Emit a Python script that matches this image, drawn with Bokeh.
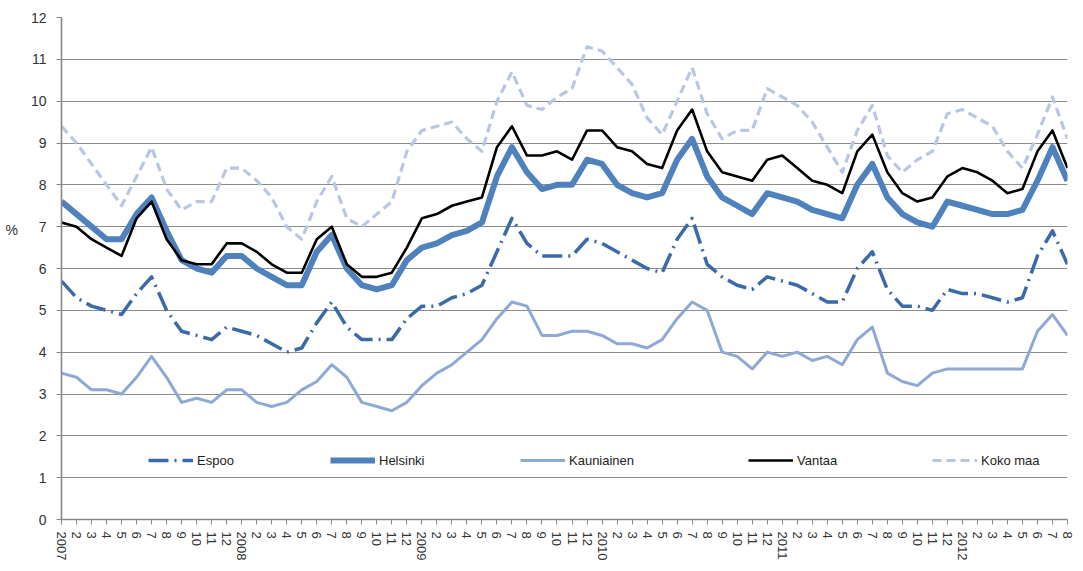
from bokeh.plotting import figure
from bokeh.models import (Range1d, FixedTicker, Legend, LegendItem, ColumnDataSource)
from bokeh.embed import file_html
from bokeh.resources import INLINE

# ---- data ----
years = [2007, 2008, 2009, 2010, 2011, 2012]
month_counts = [12, 12, 12, 12, 12, 8]

espoo = [5.7, 5.3, 5.1, 5.0, 4.9, 5.4, 5.8, 5.0, 4.5, 4.4, 4.3, 4.6,
         4.5, 4.4, 4.2, 4.0, 4.1, 4.7, 5.2, 4.6, 4.3, 4.3, 4.3, 4.8,
         5.1, 5.1, 5.3, 5.4, 5.6, 6.4, 7.2, 6.6, 6.3, 6.3, 6.3, 6.7,
         6.6, 6.4, 6.2, 6.0, 5.9, 6.7, 7.2, 6.1, 5.8, 5.6, 5.5, 5.8,
         5.7, 5.6, 5.4, 5.2, 5.2, 6.0, 6.4, 5.5, 5.1, 5.1, 5.0, 5.5,
         5.4, 5.4, 5.3, 5.2, 5.3, 6.3, 6.9, 6.1]
helsinki = [7.6, 7.3, 7.0, 6.7, 6.7, 7.3, 7.7, 6.9, 6.2, 6.0, 5.9, 6.3,
            6.3, 6.0, 5.8, 5.6, 5.6, 6.4, 6.8, 6.0, 5.6, 5.5, 5.6, 6.2,
            6.5, 6.6, 6.8, 6.9, 7.1, 8.2, 8.9, 8.3, 7.9, 8.0, 8.0, 8.6,
            8.5, 8.0, 7.8, 7.7, 7.8, 8.6, 9.1, 8.2, 7.7, 7.5, 7.3, 7.8,
            7.7, 7.6, 7.4, 7.3, 7.2, 8.0, 8.5, 7.7, 7.3, 7.1, 7.0, 7.6,
            7.5, 7.4, 7.3, 7.3, 7.4, 8.1, 8.9, 8.1]
kauniainen = [3.5, 3.4, 3.1, 3.1, 3.0, 3.4, 3.9, 3.4, 2.8, 2.9, 2.8, 3.1,
              3.1, 2.8, 2.7, 2.8, 3.1, 3.3, 3.7, 3.4, 2.8, 2.7, 2.6, 2.8,
              3.2, 3.5, 3.7, 4.0, 4.3, 4.8, 5.2, 5.1, 4.4, 4.4, 4.5, 4.5,
              4.4, 4.2, 4.2, 4.1, 4.3, 4.8, 5.2, 5.0, 4.0, 3.9, 3.6, 4.0,
              3.9, 4.0, 3.8, 3.9, 3.7, 4.3, 4.6, 3.5, 3.3, 3.2, 3.5, 3.6,
              3.6, 3.6, 3.6, 3.6, 3.6, 4.5, 4.9, 4.4]
vantaa = [7.1, 7.0, 6.7, 6.5, 6.3, 7.2, 7.6, 6.7, 6.2, 6.1, 6.1, 6.6,
          6.6, 6.4, 6.1, 5.9, 5.9, 6.7, 7.0, 6.1, 5.8, 5.8, 5.9, 6.5,
          7.2, 7.3, 7.5, 7.6, 7.7, 8.9, 9.4, 8.7, 8.7, 8.8, 8.6, 9.3,
          9.3, 8.9, 8.8, 8.5, 8.4, 9.3, 9.8, 8.8, 8.3, 8.2, 8.1, 8.6,
          8.7, 8.4, 8.1, 8.0, 7.8, 8.8, 9.2, 8.3, 7.8, 7.6, 7.7, 8.2,
          8.4, 8.3, 8.1, 7.8, 7.9, 8.8, 9.3, 8.4]
koko_maa = [9.4, 9.0, 8.5, 8.0, 7.5, 8.2, 8.9, 7.9, 7.4, 7.6, 7.6, 8.4,
            8.4, 8.1, 7.7, 7.0, 6.7, 7.6, 8.2, 7.2, 7.0, 7.3, 7.6, 8.8,
            9.3, 9.4, 9.5, 9.1, 8.8, 10.0, 10.7, 9.9, 9.8, 10.1, 10.3, 11.3,
            11.2, 10.8, 10.4, 9.6, 9.2, 10.0, 10.8, 9.7, 9.1, 9.3, 9.3, 10.3,
            10.1, 9.9, 9.5, 8.9, 8.3, 9.3, 9.9, 8.7, 8.3, 8.6, 8.8, 9.7,
            9.8, 9.6, 9.4, 8.8, 8.4, 9.2, 10.1, 9.1]

tick_labels = []
for yr, n in zip(years, month_counts):
    for m in range(1, n + 1):
        tick_labels.append(str(yr) if m == 1 else str(m))

idx = list(range(len(tick_labels)))
src = ColumnDataSource(dict(x=idx, espoo=espoo, helsinki=helsinki,
                            kauniainen=kauniainen, vantaa=vantaa, koko=koko_maa))

p = figure(width=1075, height=563, output_backend="svg", toolbar_location=None,
           x_range=Range1d(0, len(idx) - 1), y_range=Range1d(0, 12),
           min_border_left=61, min_border_right=8, min_border_top=17, min_border_bottom=44)
p.outline_line_color = None
p.background_fill_color = "white"

# axes
p.xaxis.ticker = FixedTicker(ticks=idx)
p.xaxis.major_label_overrides = {i: t for i, t in zip(idx, tick_labels)}
p.xaxis.major_label_orientation = "vertical"
p.yaxis.ticker = FixedTicker(ticks=list(range(0, 13)))
for ax in (p.xaxis, p.yaxis):
    ax.axis_line_color = "#868686"
    ax.axis_line_width = 1.6
    ax.major_tick_line_color = "#868686"
    ax.major_tick_in = 0
    ax.major_tick_out = 5
    ax.minor_tick_line_color = None
    ax.major_label_text_font = "Liberation Sans"
    ax.major_label_text_color = "#333333"
p.xaxis.major_label_text_font_size = "13px"
p.xaxis.major_label_standoff = 7
p.yaxis.major_label_text_font_size = "14px"
p.yaxis.major_label_standoff = 10

# "%" as the y-axis title, horizontal, lifted toward the 7 gridline
p.yaxis.axis_label = "%\n\n\n\n"
p.yaxis.axis_label_orientation = "horizontal"
p.yaxis.axis_label_standoff = 10
p.yaxis.axis_label_text_font = "Liberation Sans"
p.yaxis.axis_label_text_font_style = "normal"
p.yaxis.axis_label_text_font_size = "14px"
p.yaxis.axis_label_text_color = "#333333"

p.xgrid.grid_line_color = None
p.ygrid.ticker = FixedTicker(ticks=list(range(1, 13)))
p.ygrid.grid_line_color = "#8c8c8c"
p.ygrid.grid_line_width = 1.2

# lines
r_esp = p.line("x", "espoo", source=src, line_color="#3B6AA9", line_width=3.5,
               line_dash="20 6 2 6", line_join="round")
r_hel = p.line("x", "helsinki", source=src, line_color="#4F81BD", line_width=6,
               line_join="round")
r_kau = p.line("x", "kauniainen", source=src, line_color="#8DA9D4", line_width=3,
               line_join="round")
r_van = p.line("x", "vantaa", source=src, line_color="black", line_width=2.6,
               line_join="round")
r_kok = p.line("x", "koko", source=src, line_color="#B9C7E2", line_width=3.2,
               line_dash="9 5", line_join="round")

# legends, one per item, positioned like the reference
names = ["Espoo", "Helsinki", "Kauniainen", "Vantaa", "Koko maa"]
renderers = [r_esp, r_hel, r_kau, r_van, r_kok]
xpos = [87, 269, 459, 687, 871]
for name, r, xp in zip(names, renderers, xpos):
    leg = Legend(items=[LegendItem(label=name, renderers=[r])], location=(xp, 49),
                 orientation="horizontal", border_line_color=None,
                 background_fill_alpha=0, padding=0, margin=0, spacing=0,
                 glyph_width=45, glyph_height=20, label_standoff=4,
                 label_text_font="Liberation Sans", label_text_font_size="13px",
                 label_text_color="#222222")
    p.add_layout(leg)

open("out.html", "w").write(file_html(p, INLINE))
